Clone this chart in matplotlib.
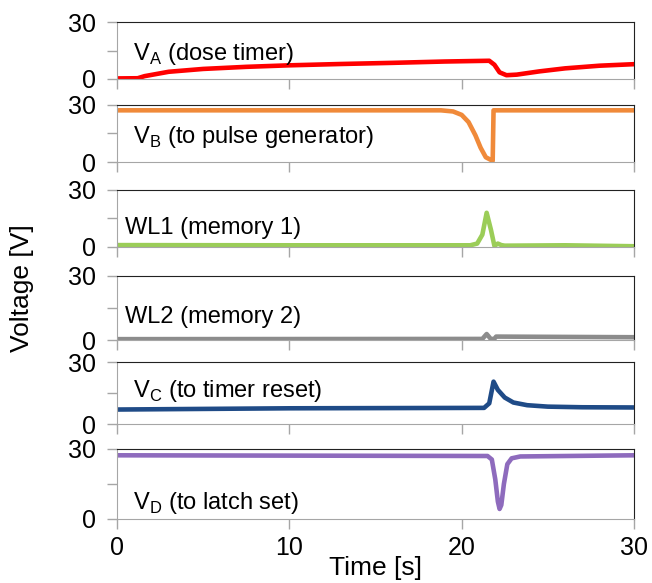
import numpy as np
import matplotlib.pyplot as plt

plt.rcParams['font.family'] = ['Liberation Sans', 'DejaVu Sans']

# traces: (time [s], voltage [V])
t_a = [0, 1.2, 1.6, 3, 5, 7.5, 10, 13, 16, 19, 21.6, 21.9, 22.2, 22.6, 23.2, 24.5, 26, 28, 30]
v_a = [0.3, 0.4, 1.5, 3.8, 5.3, 6.4, 7.2, 7.9, 8.5, 9.2, 9.6, 7.5, 3.5, 2.0, 2.3, 4.0, 5.6, 7.0, 7.8]

t_b = [0, 18.8, 19.5, 20.0, 20.4, 20.8, 21.1, 21.4, 21.8, 21.85, 30]
v_b = [27.2, 27.2, 26.6, 24.8, 21.0, 14.0, 7.5, 2.5, 0.6, 27.2, 27.2]

t_wl1 = [0, 10, 20.5, 20.9, 21.2, 21.45, 21.7, 21.9, 22.1, 22.3, 22.5, 26, 30]
v_wl1 = [1.0, 0.9, 0.9, 1.8, 6.5, 18.0, 9.0, 0.6, 1.8, 1.0, 0.7, 0.9, 0.4]

t_wl2 = [0, 21.2, 21.45, 21.7, 21.9, 22.0, 30]
v_wl2 = [0.4, 0.5, 2.8, 0.4, 0.6, 1.6, 1.3]

t_c = [0, 10, 21.3, 21.6, 21.85, 22.1, 22.5, 23, 23.8, 25, 27, 30]
v_c = [7.0, 7.6, 7.8, 10.0, 20.5, 16.5, 12.8, 10.4, 9.1, 8.4, 8.1, 8.0]

t_d = [0, 21.5, 21.75, 21.95, 22.1, 22.2, 22.3, 22.45, 22.65, 22.9, 23.4, 30]
v_d = [27.3, 27.0, 25.5, 17.0, 7.5, 4.3, 6.0, 15.0, 23.5, 26.0, 26.8, 27.3]

series = [(t_a, v_a), (t_b, v_b), (t_wl1, v_wl1), (t_wl2, v_wl2), (t_c, v_c), (t_d, v_d)]
labels = ['V$_\\mathregular{A}$ (dose timer)', 'V$_\\mathregular{B}$ (to pulse generator)',
          'WL1 (memory 1)', 'WL2 (memory 2)',
          'V$_\\mathregular{C}$ (to timer reset)', 'V$_\\mathregular{D}$ (to latch set)']
colors = ['#ff0000', '#f08a3a', '#9bcd58', '#8c8c8c', '#1f4b87', '#8e6bbd']
x_ticks = [0, 10, 20, 30]

# panel boxes in pixels: top, bottom
W, H = 652, 583
panels = [(22, 79), (105, 162), (190, 247), (276, 340), (362, 424), (449, 519)]
left, right = 117, 634
# label anchor (x, baseline) in axes fractions
label_pos = [(0.03, 0.33), (0.03, 0.33), (0.016, 0.22), (0.016, 0.27), (0.03, 0.43), (0.03, 0.15)]

fig = plt.figure(figsize=(W / 100, H / 100), dpi=100)
grey = '#a6a6a6'
for i, ((top, bot), (t, v)) in enumerate(zip(panels, series)):
    ax = fig.add_axes([left / W, 1 - bot / H, (right - left) / W, (bot - top) / H])
    ax.plot(t, v, color=colors[i], lw=3.3, solid_joinstyle='round')
    ax.set_xlim(0, 30)
    ax.set_ylim(0, 30)
    ax.set_yticks([0, 15, 30])
    ax.set_yticklabels(['0', '', '30'])
    ax.set_xticks(x_ticks)
    for s in ['left', 'bottom']:
        ax.spines[s].set_color(grey)
    for s in ['top', 'right']:
        ax.spines[s].set_color('#222222')
    ax.tick_params(direction='out', length=7, width=1, color=grey, labelsize=18, pad=3)
    ax.tick_params(axis='y', pad=8)
    if i < 5:
        ax.tick_params(axis='x', labelbottom=False)
    else:
        ax.tick_params(axis='x', pad=5)
        ax.set_xlabel('Time [s]', fontsize=19, labelpad=-3)
    ax.text(*label_pos[i], labels[i], transform=ax.transAxes, fontsize=17,
            va='baseline', ha='left')

fig.text(22 / W, 1 - 288 / H, 'Voltage [V]', rotation=90, fontsize=19, va='center', ha='center')

fig.savefig('out.png', dpi=100)
